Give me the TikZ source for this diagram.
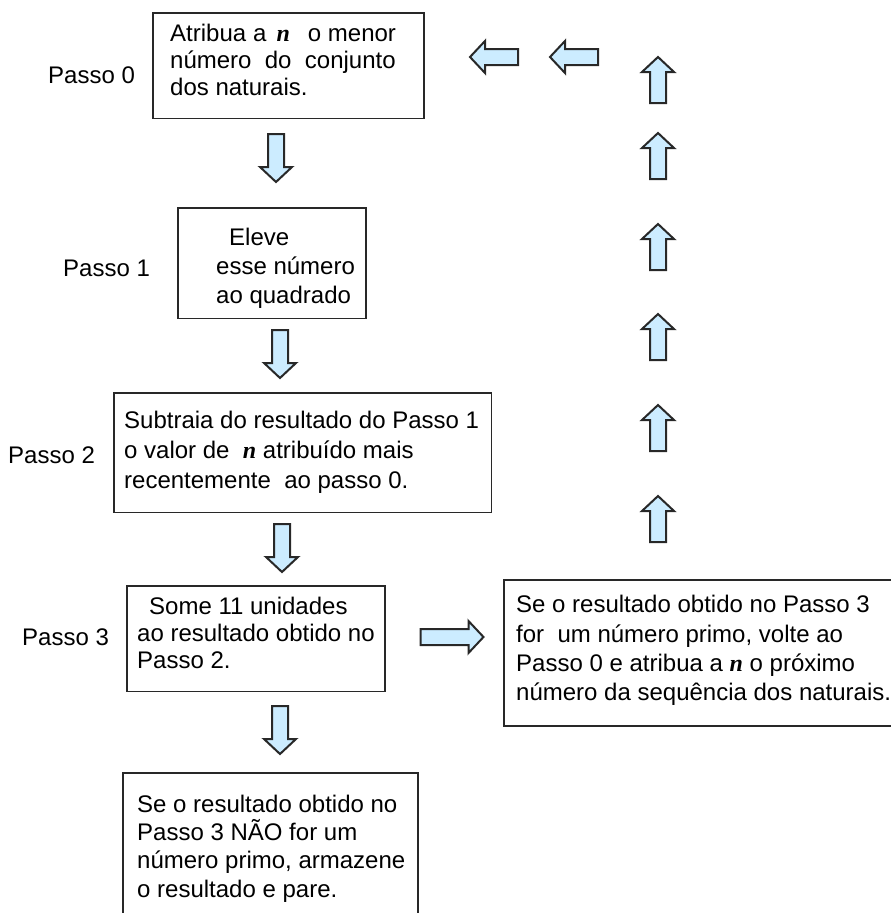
\documentclass[tikz,border=0pt]{standalone}
\usepackage{fontspec}
\setmainfont{Liberation Sans}
\newfontfamily\nfont{Liberation Serif}
\definecolor{arrowfill}{RGB}{204,236,255}
\definecolor{edge}{RGB}{40,40,40}
\newcommand\nn{{\nfont\bfseries\itshape n}}
\newcommand\barrow[4]{\draw[blk, shift={(#1,#2)}, rotate=#3] (-#4/2,-8) -- (#4/2-15,-8) -- (#4/2-15,-16) -- (#4/2,0) -- (#4/2-15,16) -- (#4/2-15,8) -- (-#4/2,8) -- cycle;}
\begin{document}
\begin{tikzpicture}[x=1bp,y=-1bp,
  box/.style={draw=edge, line width=1.6bp, rectangle, inner sep=0pt, anchor=north west},
  tl/.style={anchor=base west, inner sep=0pt, font=\fontsize{24bp}{29bp}\selectfont},
  blk/.style={draw=edge, line width=2bp, fill=arrowfill, line join=miter}]
\useasboundingbox (0,0) rectangle (891,913);
\clip (0,0) rectangle (891,913);

% Passo labels
\node[tl] (p0) at (48,83) {Passo 0};
\node[tl] (p1) at (63,276) {Passo 1};
\node[tl] (p2) at (8,463) {Passo 2};
\node[tl] (p3) at (22,645) {Passo 3};

% Box 0
\node[box, minimum width=272, minimum height=106] (b0) at (152,12) {};
\node[tl] (b0a) at (170,41) {Atribua\hspace{7bp}a\hspace{10bp}\nn\hspace{18bp}o menor};
\node[tl] (b0b) at (170,68) {número\ \ do\ \ conjunto};
\node[tl] (b0c) at (170,95) {dos naturais.};

% Box 1
\node[box, minimum width=189, minimum height=111] (b1) at (177,207) {};
\node[tl] (b1a) at (229,245) {Eleve};
\node[tl] (b1b) at (216,274) {esse número};
\node[tl] (b1c) at (216,303) {ao quadrado};

% Box 2
\node[box, minimum width=379, minimum height=120] (b2) at (113,392) {};
\node[tl] (b2a) at (124,428) {Subtraia do resultado do Passo 1};
\node[tl] (b2b) at (124,458) {o valor de\ \ \nn\ atribuído mais};
\node[tl] (b2c) at (124,488) {recentemente\ \ ao passo 0.};

% Box 3
\node[box, minimum width=259, minimum height=106] (b3) at (126,585) {};
\node[tl] (b3a) at (149,614) {Some 11 unidades};
\node[tl] (b3b) at (137,641) {ao resultado obtido no};
\node[tl] (b3c) at (137,668) {Passo 2.};

% Right box (its right edge runs off the picture)
\node[box, minimum width=392, minimum height=147] (br) at (503,579) {};
\node[tl] (bra) at (516,612) {Se o resultado obtido no Passo 3};
\node[tl] (brb) at (516,642) {for\ \ um número primo, volte ao};
\node[tl] (brc) at (516,671) {Passo 0 e atribua a \nn\ o próximo};
\node[tl] (brd) at (516,700) {número da sequência dos naturais.};

% Bottom box (cut off at the bottom of the picture)
\coordinate (bbl) at (123,930);
\coordinate (bbtl) at (123,773);
\coordinate (bbtr) at (418,773);
\coordinate (bbr) at (418,930);
\draw[draw=edge, line width=1.6bp] (bbl) -- (bbtl) -- (bbtr) -- (bbr);
\node[tl] (bba) at (137,812) {Se o resultado obtido no};
\node[tl] (bbb) at (137,840) {Passo 3 NÃO for um};
\node[tl] (bbc) at (137,868) {número primo, armazene};
\node[tl] (bbd) at (137,897) {o resultado e pare.};

% Down arrows
\barrow{276}{158}{-90}{48}
\barrow{280}{354}{-90}{48}
\barrow{282}{548}{-90}{48}
\barrow{280}{730}{-90}{48}

% Right arrow
\barrow{452}{637}{0}{63}

% Up arrows
\barrow{658}{80}{90}{46}
\barrow{658}{156}{90}{46}
\barrow{658}{247}{90}{46}
\barrow{658}{337}{90}{46}
\barrow{658}{428}{90}{46}
\barrow{658}{519}{90}{46}

% Left arrows
\barrow{494}{57}{180}{48}
\barrow{574}{57}{180}{48}
\end{tikzpicture}
\end{document}
